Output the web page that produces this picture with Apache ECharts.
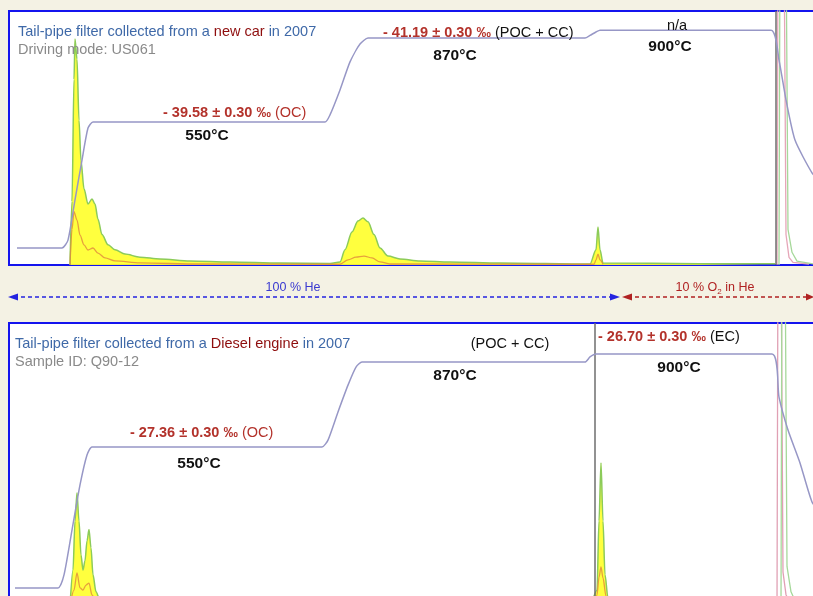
<!DOCTYPE html>
<html>
<head>
<meta charset="utf-8">
<script src="https://cdn.jsdelivr.net/npm/echarts@6/dist/echarts.min.js"></script>
<style>
  html, body { margin: 0; padding: 0; background: #F4F2E4; }
  #chart { width: 813px; height: 596px; }
</style>
</head>
<body>
<div id="chart"></div>
<script>
// time axis: arbitrary run time units (1 unit ~ 1 px of the original trace)
// temperature traces [t, degC]
var topTemp = [[8,70],[53,70],[59,100],[66,253],[73,405],[79,527],[84,550],[316,550],[321,577],[331,672],[341,779],[351,847],[359,870],[576,870],[581,880],[587,893],[591,900],[762,900],[770,786],[777,634],[786,481],[803,356],[812,320]];
var botTemp = [[6,19],[49,19],[55,68],[63,237],[71,407],[78,520],[83,550],[313,550],[319,576],[329,682],[339,783],[347,851],[353,870],[576,870],[581,889],[587,900],[763,900],[770,738],[779,614],[791,490],[803,343],[812,300]];

// FID / CO2 signal (relative, 0-100) [t, signal]
var topSignal = [[61,0],[63,25],[65,73],[66,89],[68,81],[70,57],[72,41],[75,30],[79,24],[83,26],[86,24],[89,18],[93,12],[99,8],[106,6],[116,4.3],[131,3.1],[151,2.4],[181,1.6],[221,1.2],[271,0.8],[321,0.6],[331,1.2],[336,6],[343,13],[349,17.3],[354,18.5],[359,17],[365,12],[371,6.7],[379,3.5],[391,2.4],[411,1.6],[441,1.2],[491,0.8],[581,0.4],[587,6],[589,15],[591,6],[594,0.8],[691,0.5],[766,0.5]];
var topMinor = [[61,0],[63,14],[65,21],[68,17.7],[71,11.8],[75,7.9],[79,5.9],[84,6.7],[89,4.7],[96,2.8],[106,1.6],[131,0.8],[191,0.4],[331,0.3],[339,2],[347,3.1],[355,3.5],[363,2.8],[371,1.2],[381,0.4],[585,0.3],[587,2],[589,4.3],[591,2],[594,0.3]];
var botSignal = [[61,0],[64,12.7],[66,30],[68,40],[70,30],[72,18],[74,12.7],[76,16],[78,23],[80,27],[82,20.5],[84,11],[87,5],[91,2],[101,0.7],[121,0.3],[581,0.3],[588,5.6],[590,30],[592,50.5],[594,30],[596,11],[599,2.8],[603,0.5],[766,0.3]];
var botMinor = [[61,0],[65,5.6],[68,11.7],[71,6.4],[74,5.6],[77,7.4],[80,8.1],[83,3.9],[87,1.4],[96,0.3],[586,0.3],[588,3.9],[590,10.2],[592,13.8],[594,9.9],[597,3.5],[601,0.5]];

// reference gas pulses (off scale)
var topRefPink = [[768,0],[769,130],[775,130],[777,12],[780,3],[784,1],[800,0.4]];
var topRefGreen = [[770,0],[771,130],[777,130],[779,14],[783,5],[788,1.5],[805,0.4]];
var botRefPink = [[768,0],[769,130],[772,130],[774,12],[777,4],[781,1],[795,0.3]];
var botRefGreen = [[772,0],[773,130],[776,130],[778,14],[782,5],[787,1.2],[800,0.3]];

// switch markers
var topMarker = [767];
var botMarker = [586];

var chart = echarts.init(document.getElementById('chart'), null, {renderer: 'canvas'});

var FONT = '"Liberation Sans", Arial, sans-serif';
var blueTxt = '#3F69A8', darkRed = '#8E0D0D', valRed = '#B3322B';

function peak(name, data, xi, yi, fill) {
  return {
    name: name, type: 'line', xAxisIndex: xi, yAxisIndex: yi, data: data,
    showSymbol: false, smooth: 0.3, smoothMonotone: 'x',
    lineStyle: {color: '#8CCB5A', width: 1.5},
    areaStyle: fill ? {color: '#FFFF2E', opacity: 0.92} : null,
    z: 3
  };
}
function minor(data, xi, yi) {
  return {
    type: 'line', xAxisIndex: xi, yAxisIndex: yi, data: data,
    showSymbol: false, smooth: 0.3, smoothMonotone: 'x',
    lineStyle: {color: '#E08A3C', width: 1.3, opacity: 0.8}, z: 4
  };
}
function ref(data, xi, yi, color) {
  return {
    type: 'line', xAxisIndex: xi, yAxisIndex: yi, data: data,
    showSymbol: false, lineStyle: {color: color, width: 1.3}, z: 2
  };
}
function temp(data, xi, yi, marker) {
  return {
    type: 'line', xAxisIndex: xi, yAxisIndex: yi, data: data,
    showSymbol: false, smooth: 0.2,
    lineStyle: {color: '#9797C6', width: 1.5}, z: 5,
    markLine: {
      silent: true, symbol: 'none', label: {show: false},
      lineStyle: {color: '#6E6E6E', width: 1.5, type: 'solid'},
      data: marker.map(function (t) { return {xAxis: t}; })
    }
  };
}

function txt(x, y, text, rich, align) {
  return {
    type: 'text', x: x, y: y, z: 100,
    style: {text: text, rich: rich, align: align || 'left', verticalAlign: 'middle', font: '14.5px ' + FONT}
  };
}
var FS = 14.5;
var richCommon = {
  b: {fill: blueTxt, fontSize: FS, fontFamily: FONT},
  r: {fill: darkRed, fontSize: FS, fontFamily: FONT},
  g: {fill: '#8A8A8A', fontSize: FS, fontFamily: FONT},
  v: {fill: valRed, fontSize: FS, fontWeight: 'bold', fontFamily: FONT},
  vr: {fill: valRed, fontSize: FS, fontFamily: FONT},
  k: {fill: '#111', fontSize: FS, fontFamily: FONT},
  t: {fill: '#111', fontSize: 15.5, fontWeight: 'bold', fontFamily: FONT}
};

var arrowY = 297;
var graphics = [
  // top panel
  txt(18, 32, '{b|Tail-pipe filter collected from a }{r|new car}{b| in 2007}', richCommon),
  txt(18, 50, '{g|Driving mode: US061}', richCommon),
  txt(163, 113, '{v|- 39.58 ± 0.30 ‰} {vr|(OC)}', richCommon),
  txt(207, 136, '{t|550°C}', richCommon, 'center'),
  txt(383, 33, '{v|- 41.19 ± 0.30 ‰} {k|(POC + CC)}', richCommon),
  txt(455, 56, '{t|870°C}', richCommon, 'center'),
  txt(677, 26, '{k|n/a}', richCommon, 'center'),
  txt(670, 47, '{t|900°C}', richCommon, 'center'),
  // bottom panel
  txt(15, 344, '{b|Tail-pipe filter collected from a }{r|Diesel engine}{b| in 2007}', richCommon),
  txt(15, 362, '{g|Sample ID: Q90-12}', richCommon),
  txt(130, 433, '{v|- 27.36 ± 0.30 ‰} {vr|(OC)}', richCommon),
  txt(199, 464, '{t|550°C}', richCommon, 'center'),
  txt(510, 344, '{k|(POC + CC)}', richCommon, 'center'),
  txt(455, 376, '{t|870°C}', richCommon, 'center'),
  txt(598, 337, '{v|- 26.70 ± 0.30 ‰} {k|(EC)}', richCommon),
  txt(679, 368, '{t|900°C}', richCommon, 'center'),
  // carrier gas arrows
  {type: 'line', z: 50, shape: {x1: 14, y1: arrowY, x2: 614, y2: arrowY},
   style: {stroke: '#2424E0', lineWidth: 1.3, lineDash: [4, 3]}},
  {type: 'polygon', z: 50, shape: {points: [[8, arrowY], [18, arrowY - 3.5], [18, arrowY + 3.5]]}, style: {fill: '#2424E0'}},
  {type: 'polygon', z: 50, shape: {points: [[620, arrowY], [610, arrowY - 3.5], [610, arrowY + 3.5]]}, style: {fill: '#2424E0'}},
  {type: 'line', z: 50, shape: {x1: 628, y1: arrowY, x2: 808, y2: arrowY},
   style: {stroke: '#B02222', lineWidth: 1.3, lineDash: [4, 3]}},
  {type: 'polygon', z: 50, shape: {points: [[622, arrowY], [632, arrowY - 3.5], [632, arrowY + 3.5]]}, style: {fill: '#B02222'}},
  {type: 'polygon', z: 50, shape: {points: [[814, arrowY], [806, arrowY - 3.5], [806, arrowY + 3.5]]}, style: {fill: '#B02222'}},
  {type: 'text', x: 293, y: 288, z: 50,
   style: {text: '100 % He', fill: '#3A3AD0', font: '12.5px ' + FONT, align: 'center', verticalAlign: 'middle'}},
  {type: 'text', x: 715, y: 288, z: 50,
   style: {text: '10 % O{s|2} in He', fill: '#B02222', font: '12.5px ' + FONT, align: 'center', verticalAlign: 'middle',
     rich: {s: {fill: '#B02222', fontSize: 8, fontFamily: FONT, padding: [7, 0, 0, 0]}}}}
];

var hidden = {show: false};
var option = {
  backgroundColor: '#F4F2E4',
  animation: false,
  grid: [
    {left: 9, top: 11, width: 810, height: 254, outerBoundsMode: 'none', containLabel: false,
     show: true, backgroundColor: '#ffffff', borderColor: '#1414EE', borderWidth: 2},
    {left: 9, top: 323, width: 810, height: 283, outerBoundsMode: 'none', containLabel: false,
     show: true, backgroundColor: '#ffffff', borderColor: '#1414EE', borderWidth: 2}
  ],
  xAxis: [
    {type: 'value', gridIndex: 0, min: 0, max: 810, show: false},
    {type: 'value', gridIndex: 1, min: 0, max: 810, show: false}
  ],
  yAxis: [
    {type: 'value', gridIndex: 0, min: 5, max: 973, show: false, splitLine: hidden},
    {type: 'value', gridIndex: 0, min: 0, max: 100, show: false, splitLine: hidden},
    {type: 'value', gridIndex: 1, min: -49, max: 1017, show: false, splitLine: hidden},
    {type: 'value', gridIndex: 1, min: 0, max: 100, show: false, splitLine: hidden}
  ],
  series: [
    ref(topRefPink, 0, 1, '#E6A6B8'),
    ref(topRefGreen, 0, 1, '#A6D89A'),
    peak('signal', topSignal, 0, 1, true),
    minor(topMinor, 0, 1),
    temp(topTemp, 0, 0, topMarker),
    ref(botRefPink, 1, 3, '#E0A0B4'),
    ref(botRefGreen, 1, 3, '#A6D89A'),
    peak('signal', botSignal, 1, 3, true),
    minor(botMinor, 1, 3),
    temp(botTemp, 1, 2, botMarker)
  ],
  graphic: graphics
};
chart.setOption(option);
</script>
</body>
</html>
